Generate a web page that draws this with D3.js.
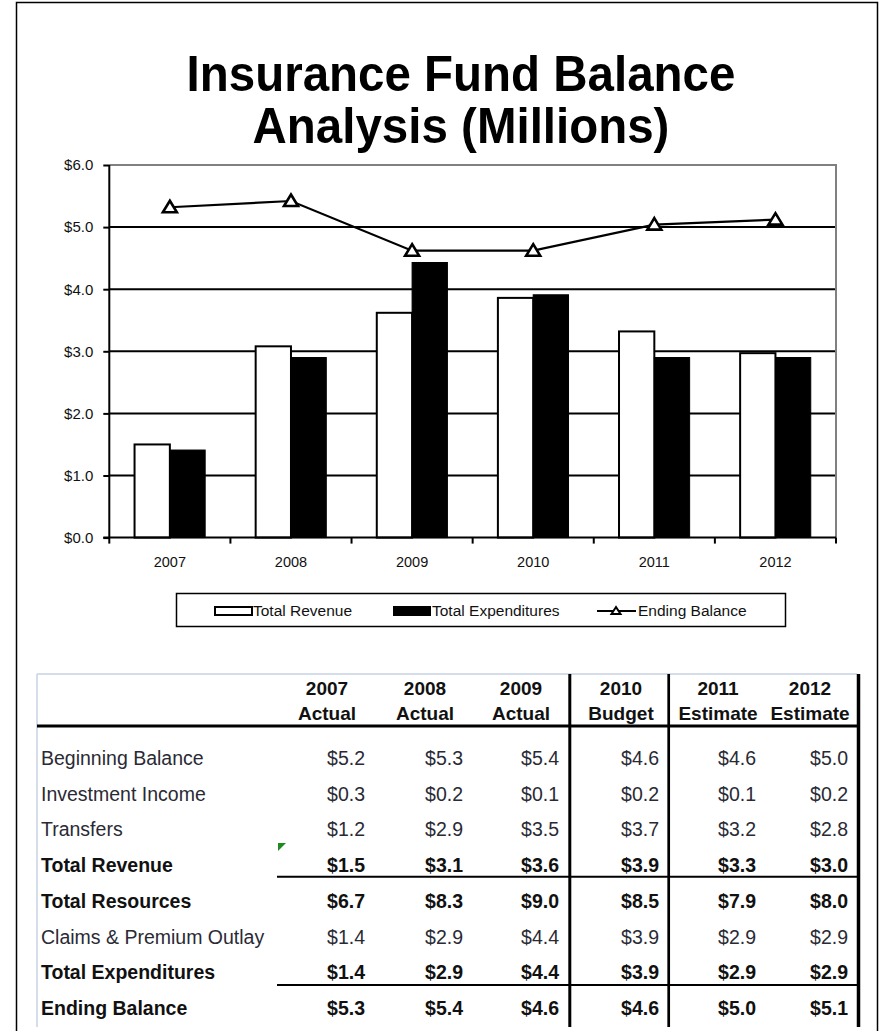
<!DOCTYPE html>
<html><head><meta charset="utf-8">
<script src="https://cdn.jsdelivr.net/npm/d3@7"></script>
<style>
html,body{margin:0;padding:0;background:#fff;}
svg{display:block;font-family:"Liberation Sans",Arial,sans-serif;}
</style></head>
<body>
<svg id="chart" width="880" height="1031"></svg>
<script>
// ---------- DATA ----------
const titleLines = ["Insurance Fund Balance", "Analysis (Millions)"];
const years = ["2007", "2008", "2009", "2010", "2011", "2012"];
const revenue = [1.5, 3.08, 3.62, 3.86, 3.32, 2.97];
const expenditures = [1.41, 2.9, 4.43, 3.91, 2.9, 2.9];
const endingBalance = [5.32, 5.42, 4.62, 4.62, 5.04, 5.12];
const yTicks = [0, 1, 2, 3, 4, 5, 6];
const seriesNames = ["Total Revenue", "Total Expenditures", "Ending Balance"];

const colYears = ["2007", "2008", "2009", "2010", "2011", "2012"];
const colKinds = ["Actual", "Actual", "Actual", "Budget", "Estimate", "Estimate"];
const rowLabels = ["Beginning Balance", "Investment Income", "Transfers", "Total Revenue",
  "Total Resources", "Claims & Premium Outlay", "Total Expenditures", "Ending Balance"];
const rowBold = [false, false, false, true, true, false, true, true];
const beginning = [5.2, 5.3, 5.4, 4.6, 4.6, 5.0];
const investment = [0.3, 0.2, 0.1, 0.2, 0.1, 0.2];
const transfers = [1.2, 2.9, 3.5, 3.7, 3.2, 2.8];
const totalRevenue = [1.5, 3.1, 3.6, 3.9, 3.3, 3.0];
const totalResources = [6.7, 8.3, 9.0, 8.5, 7.9, 8.0];
const claims = [1.4, 2.9, 4.4, 3.9, 2.9, 2.9];
const totalExpenditures = [1.4, 2.9, 4.4, 3.9, 2.9, 2.9];
const ending = [5.3, 5.4, 4.6, 4.6, 5.0, 5.1];
const tableRows = [beginning, investment, transfers, totalRevenue, totalResources, claims, totalExpenditures, ending];

// ---------- SETUP ----------
const svg = d3.select("#chart");
svg.append("rect").attr("width", 880).attr("height", 1031).attr("fill", "#fff");

// outer frame
svg.append("path").attr("d", "M16.5,1040 V2.5 H877.5 V1040")
  .attr("fill", "none").attr("stroke", "#000").attr("stroke-width", 1.5);

// title
svg.append("g").selectAll("text").data(titleLines).join("text")
  .attr("transform", (d, i) => `translate(461,${91 + i * 52}) scale(0.95,1)`)
  .attr("text-anchor", "middle").attr("font-size", 50).attr("font-weight", "bold")
  .attr("fill", "#000").text(d => d);

// ---------- CHART ----------
const L = 109.3, R = 836, T = 165, B = 537.6;
const x = d3.scaleBand().domain(years).range([L, R]).padding(0);
const x1 = d3.scaleBand().domain(["rev", "exp"]).range([0, x.bandwidth()]).paddingInner(0).paddingOuter(0.715);
const y = d3.scaleLinear().domain([0, 6]).range([B, T]);

const g = svg.append("g");
// gridlines
g.selectAll("line.grid").data(yTicks.filter(t => t > 0 && t < 6)).join("line")
  .attr("x1", L).attr("x2", R).attr("y1", d => y(d)).attr("y2", d => y(d))
  .attr("stroke", "#000").attr("stroke-width", 2);
// plot border top/right (grey)
g.append("path").attr("d", `M${L},${y(6)} H${R} V${B}`)
  .attr("fill", "none").attr("stroke", "#808080").attr("stroke-width", 2);

// bars
g.selectAll("rect.rev").data(years).join("rect")
  .attr("x", (d) => x(d) + x1("rev")).attr("width", x1.bandwidth())
  .attr("y", (d, i) => y(revenue[i])).attr("height", (d, i) => B - y(revenue[i]))
  .attr("fill", "#fff").attr("stroke", "#000").attr("stroke-width", 2);
g.selectAll("rect.exp").data(years).join("rect")
  .attr("x", (d) => x(d) + x1("exp")).attr("width", x1.bandwidth())
  .attr("y", (d, i) => y(expenditures[i])).attr("height", (d, i) => B - y(expenditures[i]))
  .attr("fill", "#000").attr("stroke", "#000").attr("stroke-width", 1);

// y axis
const yAxis = d3.axisLeft(y).tickValues(yTicks).tickSize(6).tickPadding(10)
  .tickFormat(d => "$" + d3.format(".1f")(d));
const ya = svg.append("g").attr("transform", `translate(${L},0)`).call(yAxis);
ya.attr("font-size", 15).attr("font-family", "Liberation Sans, Arial, sans-serif");
ya.select(".domain").attr("stroke", "#000").attr("stroke-width", 2).attr("d", `M0,${T}V${B}`);
ya.selectAll(".tick line").attr("stroke", "#000").attr("stroke-width", 2);
ya.selectAll(".tick text").attr("font-size", 15).attr("fill", "#111");

// x axis
const xa = svg.append("g").attr("transform", `translate(0,${B})`)
  .call(d3.axisBottom(x).tickSize(0).tickPadding(19));
xa.attr("font-size", 14.5).attr("font-family", "Liberation Sans, Arial, sans-serif");
xa.select(".domain").attr("stroke", "#000").attr("stroke-width", 2).attr("d", `M${L - 6},0H${R}`);
xa.selectAll(".tick text").attr("font-size", 14.5).attr("fill", "#111");
// category boundary ticks
const bounds = years.map(d => x(d)).concat([R]);
xa.selectAll("line.bt").data(bounds).join("line")
  .attr("x1", d => d).attr("x2", d => d).attr("y1", 0).attr("y2", 6)
  .attr("stroke", "#000").attr("stroke-width", 2);

// ending balance line
const cx = d => x(d) + x.bandwidth() / 2;
const line = d3.line().x((d, i) => cx(years[i])).y(d => y(d));
g.append("path").datum(endingBalance).attr("d", line)
  .attr("fill", "none").attr("stroke", "#000").attr("stroke-width", 2.2);
const tri = "M0,-6.5 L7,5 L-7,5 Z";
g.selectAll("path.mk").data(endingBalance).join("path")
  .attr("transform", (d, i) => `translate(${cx(years[i])},${y(d)})`)
  .attr("d", tri).attr("fill", "#fff").attr("stroke", "#000").attr("stroke-width", 2.6)
  .attr("stroke-linejoin", "miter");

// ---------- LEGEND ----------
const lg = svg.append("g");
lg.append("rect").attr("x", 176.5).attr("y", 593.5).attr("width", 609).attr("height", 33)
  .attr("fill", "#fff").attr("stroke", "#000").attr("stroke-width", 1.5);
const legY = 611;
lg.append("rect").attr("x", 215).attr("y", legY - 4).attr("width", 37).attr("height", 8)
  .attr("fill", "#fff").attr("stroke", "#000").attr("stroke-width", 2);
lg.append("rect").attr("x", 393).attr("y", legY - 5).attr("width", 38).attr("height", 10)
  .attr("fill", "#000");
lg.append("line").attr("x1", 597).attr("x2", 636).attr("y1", legY).attr("y2", legY)
  .attr("stroke", "#000").attr("stroke-width", 2);
lg.append("path").attr("transform", `translate(616,${legY})`).attr("d", "M0,-4 L4.5,3 L-4.5,3 Z")
  .attr("fill", "#fff").attr("stroke", "#000").attr("stroke-width", 2);
const legX = [253, 432, 638];
lg.selectAll("text").data(seriesNames).join("text")
  .attr("x", (d, i) => legX[i]).attr("y", legY + 5)
  .attr("font-size", 15.5).attr("fill", "#111").text(d => d);

// ---------- TABLE ----------
const tb = svg.append("g");
const tLeft = 37, tRight = 857.5, tTop = 674, tBot = 1027;
const colRight = [365, 463, 559, 659, 756, 848];
const fmt = v => "$" + d3.format(".1f")(v);

tb.append("line").attr("x1", tLeft).attr("x2", tRight).attr("y1", tTop).attr("y2", tTop)
  .attr("stroke", "#c9d2e3").attr("stroke-width", 1.5);
tb.append("line").attr("x1", tLeft).attr("x2", tLeft).attr("y1", tTop).attr("y2", tBot)
  .attr("stroke", "#c9d2e3").attr("stroke-width", 1.5);

// header
const hdr = tb.selectAll("g.h").data(colYears).join("g");
hdr.append("text").attr("x", (d, i) => colRight[i] - 38).attr("y", 695)
  .attr("text-anchor", "middle").attr("font-size", 19).attr("font-weight", "bold")
  .attr("fill", "#111").text(d => d);
hdr.append("text").attr("x", (d, i) => colRight[i] - 38).attr("y", 720)
  .attr("text-anchor", "middle").attr("font-size", 19).attr("font-weight", "bold")
  .attr("fill", "#111").text((d, i) => colKinds[i]);

tb.append("line").attr("x1", tLeft).attr("x2", tRight).attr("y1", 726).attr("y2", 726)
  .attr("stroke", "#000").attr("stroke-width", 3);

// rows
const rowY = i => 765 + i * 35.7;
const rows = tb.selectAll("g.r").data(rowLabels).join("g");
rows.append("text").attr("x", 41).attr("y", (d, i) => rowY(i))
  .attr("font-size", 19.5).attr("font-weight", (d, i) => rowBold[i] ? "bold" : "normal")
  .attr("fill", (d, i) => rowBold[i] ? "#111" : "#2a2a35").text(d => d);
rows.each(function (d, i) {
  d3.select(this).selectAll("text.v").data(tableRows[i]).join("text")
    .attr("class", "v")
    .attr("x", (v, j) => colRight[j]).attr("y", rowY(i))
    .attr("text-anchor", "end").attr("font-size", 19.5)
    .attr("font-weight", rowBold[i] ? "bold" : "normal")
    .attr("fill", rowBold[i] ? "#111" : "#2a2a35").text(v => fmt(v));
});

// underlines
[876.8, 985].forEach(yy => {
  tb.append("line").attr("x1", 277).attr("x2", tRight).attr("y1", yy).attr("y2", yy)
    .attr("stroke", "#000").attr("stroke-width", 2);
});
// vertical separators
[[569.8, 3], [668.7, 2.7], [858.5, 3.5]].forEach(([xx, w]) => {
  tb.append("line").attr("x1", xx).attr("x2", xx).attr("y1", tTop).attr("y2", tBot)
    .attr("stroke", "#000").attr("stroke-width", w);
});
// green cell indicator
tb.append("path").attr("d", "M278,843 L286,843 L278,851 Z").attr("fill", "#1f8a1f");
</script>
</body></html>
